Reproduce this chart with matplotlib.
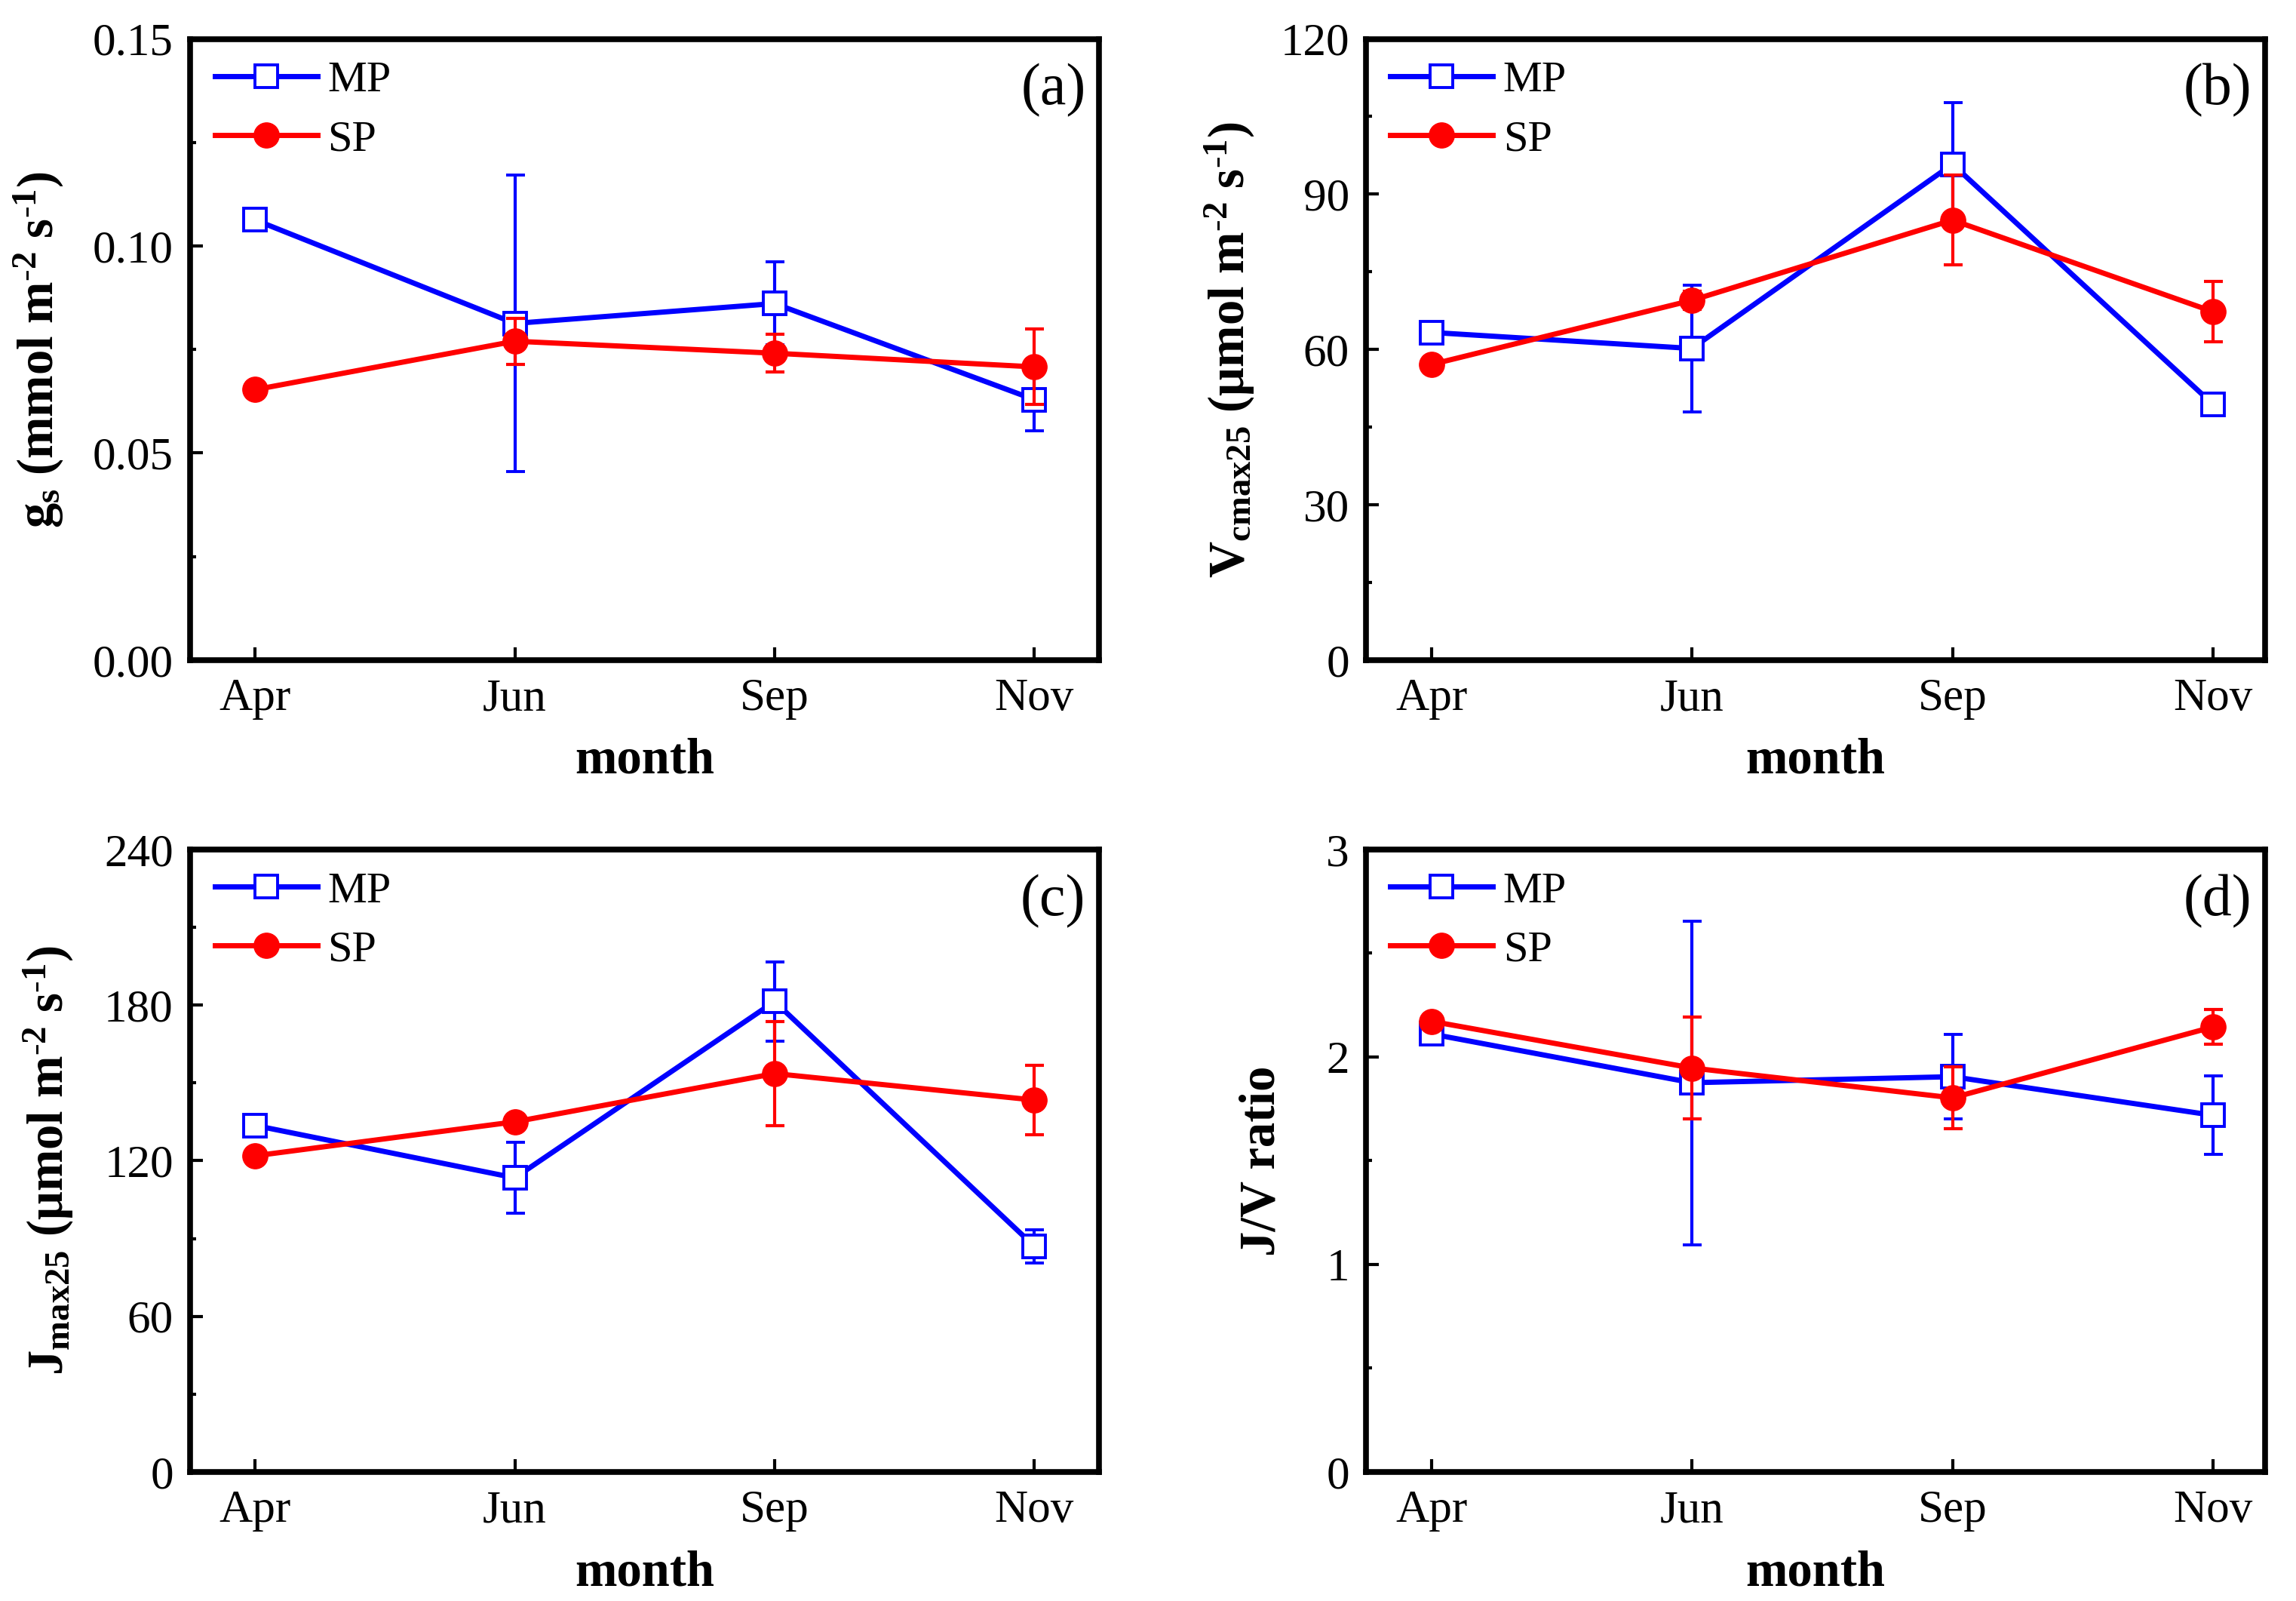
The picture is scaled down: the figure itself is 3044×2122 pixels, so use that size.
import matplotlib
matplotlib.use('Agg')
import matplotlib.pyplot as plt
from matplotlib.ticker import MultipleLocator, FormatStrFormatter
from matplotlib.lines import Line2D

plt.rcParams['font.family'] = ['Liberation Serif', 'DejaVu Serif']
plt.rcParams['mathtext.fontset'] = 'custom'
plt.rcParams['mathtext.rm'] = 'Liberation Serif'
plt.rcParams['mathtext.it'] = 'Liberation Serif:italic'
plt.rcParams['mathtext.bf'] = 'Liberation Serif:bold'

months = ['Apr', 'Jun', 'Sep', 'Nov']

# (a) stomatal conductance
gs_mp = [0.1063, 0.0813, 0.0861, 0.0629]
gs_mp_err = [0.001, 0.0358, 0.0100, 0.0076]
gs_sp = [0.0653, 0.0770, 0.0741, 0.0708]
gs_sp_err = [0.001, 0.0056, 0.0045, 0.0091]

# (b) Vcmax25
v_mp = [63.3, 60.2, 95.8, 49.4]
v_mp_err = [0.5, 12.2, 11.9, 1.7]
v_sp = [57.1, 69.5, 85.0, 67.3]
v_sp_err = [0.5, 1.8, 8.7, 5.8]

# (c) Jmax25
j_mp = [133.6, 113.4, 181.4, 87.0]
j_mp_err = [1.0, 13.6, 15.3, 6.3]
j_sp = [121.9, 135.0, 153.6, 143.4]
j_sp_err = [1.0, 1.0, 20.0, 13.3]

# (d) J/V ratio
r_mp = [2.111, 1.876, 1.905, 1.719]
r_mp_err = [0.01, 0.78, 0.205, 0.19]
r_sp = [2.172, 1.947, 1.803, 2.145]
r_sp_err = [0.01, 0.245, 0.148, 0.085]

sup2 = r'$^{\mathbf{\text{-}2}}$'
sup1 = r'$^{\mathbf{\text{-}1}}$'

panels = [
    dict(mp=gs_mp, mpe=gs_mp_err, sp=gs_sp, spe=gs_sp_err, ylim=(0, 0.15), major=0.05, minor=0.025,
         fmt='%.2f', tag='(a)', xlim=(-0.25, 3.25),
         ylabel=r'$\mathbf{g_{s}}$ (mmol m' + sup2 + ' s' + sup1 + ')',
         pos=[0.0828, 0.5877, 0.396, 0.388], lx=-0.137),
    dict(mp=v_mp, mpe=v_mp_err, sp=v_sp, spe=v_sp_err, ylim=(0, 120), major=30, minor=15,
         fmt='%d', tag='(b)', xlim=(-0.25, 3.2),
         ylabel=r'V$_{\mathbf{cmax25}}$ (μmol m' + sup2 + ' s' + sup1 + ')',
         pos=[0.595, 0.5877, 0.3916, 0.388], lx=-0.122),
    dict(mp=j_mp, mpe=j_mp_err, sp=j_sp, spe=j_sp_err, ylim=(0, 240), major=60, minor=30,
         fmt='%d', tag='(c)', xlim=(-0.25, 3.25),
         ylabel=r'J$_{\mathbf{max25}}$ (μmol m' + sup2 + ' s' + sup1 + ')',
         pos=[0.0828, 0.0806, 0.396, 0.3888], lx=-0.126),
    dict(mp=r_mp, mpe=r_mp_err, sp=r_sp, spe=r_sp_err, ylim=(0, 3), major=1, minor=0.5,
         fmt='%d', tag='(d)', xlim=(-0.25, 3.2),
         ylabel='J/V ratio',
         pos=[0.595, 0.0806, 0.3916, 0.3888], lx=-0.09),
]

BLUE = '#0000ff'
RED = '#ff0000'
mp_style = dict(color=BLUE, lw=5, marker='s', ms=22, mfc='white', mec=BLUE, mew=2.8)
sp_style = dict(color=RED, lw=5, marker='o', ms=24, mfc=RED, mec=RED)

fig = plt.figure(figsize=(30.44, 21.22), dpi=100)
x = list(range(len(months)))

for p in panels:
    ax = fig.add_axes(p['pos'])
    ax.errorbar(x, p['mp'], yerr=p['mpe'], elinewidth=3, capsize=9, capthick=3,
                zorder=3, **mp_style)
    ax.errorbar(x, p['sp'], yerr=p['spe'], elinewidth=3, capsize=9, capthick=3,
                zorder=4, **sp_style)
    ax.set_xlim(*p['xlim'])
    ax.set_ylim(*p['ylim'])
    ax.set_xticks(x)
    ax.set_xticklabels(months)
    ax.yaxis.set_major_locator(MultipleLocator(p['major']))
    ax.yaxis.set_minor_locator(MultipleLocator(p['minor']))
    ax.yaxis.set_major_formatter(FormatStrFormatter(p['fmt']))
    ax.tick_params(axis='both', which='major', direction='in', length=12, width=3,
                   labelsize=44, top=False, right=False)
    ax.tick_params(axis='y', which='major', pad=16)
    ax.tick_params(axis='x', which='major', pad=17)
    ax.tick_params(axis='y', which='minor', direction='in', length=6, width=3, right=False)
    for s in ax.spines.values():
        s.set_linewidth(5.5)
    ax.set_xlabel('month', fontsize=48, fontweight='bold')
    ax.xaxis.set_label_coords(0.5, -0.125)
    ax.set_ylabel(p['ylabel'], fontsize=48, fontweight='bold')
    ax.yaxis.set_label_coords(p['lx'], 0.5)
    ax.text(0.985, 0.917, p['tag'], transform=ax.transAxes, ha='right', va='center', fontsize=56)
    handles = [Line2D([], [], **mp_style), Line2D([], [], **sp_style)]
    ax.legend(handles, ['MP', 'SP'], loc='upper left', bbox_to_anchor=(0.027, 0.965),
              frameon=False, fontsize=42, handlelength=2.33, handletextpad=0.23,
              labelspacing=0.43, borderpad=0, borderaxespad=0)

fig.savefig('out.png', dpi=100)
